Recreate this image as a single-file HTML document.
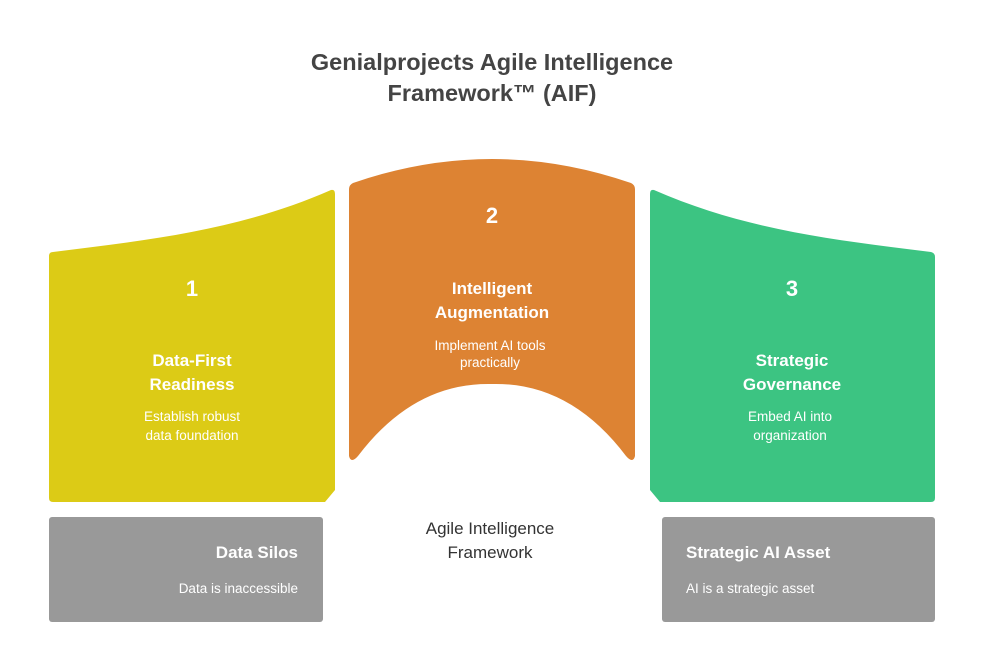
<!DOCTYPE html>
<html><head><meta charset="utf-8"><style>
body{margin:0;width:984px;height:672px;background:#fff;overflow:hidden}
svg{display:block}
text{font-family:"Liberation Sans",Arial,sans-serif}
</style></head><body>
<svg width="984" height="672" viewBox="0 0 984 672">
<text x="492" y="70" text-anchor="middle" font-size="23.5" font-weight="bold" fill="#444">Genialprojects Agile Intelligence</text>
<text x="492" y="101" text-anchor="middle" font-size="23.5" font-weight="bold" fill="#444">Framework™ (AIF)</text>

<path d="M53 252 C150 240 240 230 331 190 Q335 189 335 194 L335 490 L325 502 L53 502 Q49 502 49 498 L49 256 Q49 252 53 252 Z" fill="#dccb16"/>
<path d="M353 183 Q492 135 631 183 Q635 185 635 189 L635 456 Q633 464 626 456 Q570 382 492 384 Q414 382 358 456 Q351 464 349 456 L349 189 Q349 185 353 183 Z" fill="#dd8333"/>
<path d="M654 190 C745 230 835 240 931 252 Q935 253 935 257 L935 498 Q935 502 931 502 L660 502 L650 490 L650 194 Q650 189 654 190 Z" fill="#3cc482"/>

<g fill="#fff" text-anchor="middle" font-weight="bold">
<text x="192" y="296" font-size="22">1</text>
<text x="192" y="366" font-size="17">Data-First</text>
<text x="192" y="390" font-size="17">Readiness</text>
<text x="492" y="223" font-size="22">2</text>
<text x="492" y="294" font-size="17">Intelligent</text>
<text x="492" y="318" font-size="17">Augmentation</text>
<text x="792" y="296" font-size="22">3</text>
<text x="792" y="366" font-size="17">Strategic</text>
<text x="792" y="390" font-size="17">Governance</text>
</g>
<g fill="#fff" text-anchor="middle" font-size="13.5">
<text x="192" y="421">Establish robust</text>
<text x="192" y="440">data foundation</text>
<text x="490" y="350">Implement AI tools</text>
<text x="490" y="367">practically</text>
<text x="790" y="421">Embed AI into</text>
<text x="790" y="440">organization</text>
</g>

<rect x="49" y="517" width="274" height="105" rx="3" fill="#999"/>
<rect x="662" y="517" width="273" height="105" rx="3" fill="#999"/>
<text x="298" y="558" text-anchor="end" font-size="17" font-weight="bold" fill="#fff">Data Silos</text>
<text x="298" y="593" text-anchor="end" font-size="13.5" fill="#fff">Data is inaccessible</text>
<text x="686" y="558" font-size="17" font-weight="bold" fill="#fff">Strategic AI Asset</text>
<text x="686" y="593" font-size="13.5" fill="#fff">AI is a strategic asset</text>

<text x="490" y="534" text-anchor="middle" font-size="17" fill="#333">Agile Intelligence</text>
<text x="490" y="558" text-anchor="middle" font-size="17" fill="#333">Framework</text>
</svg>
</body></html>
